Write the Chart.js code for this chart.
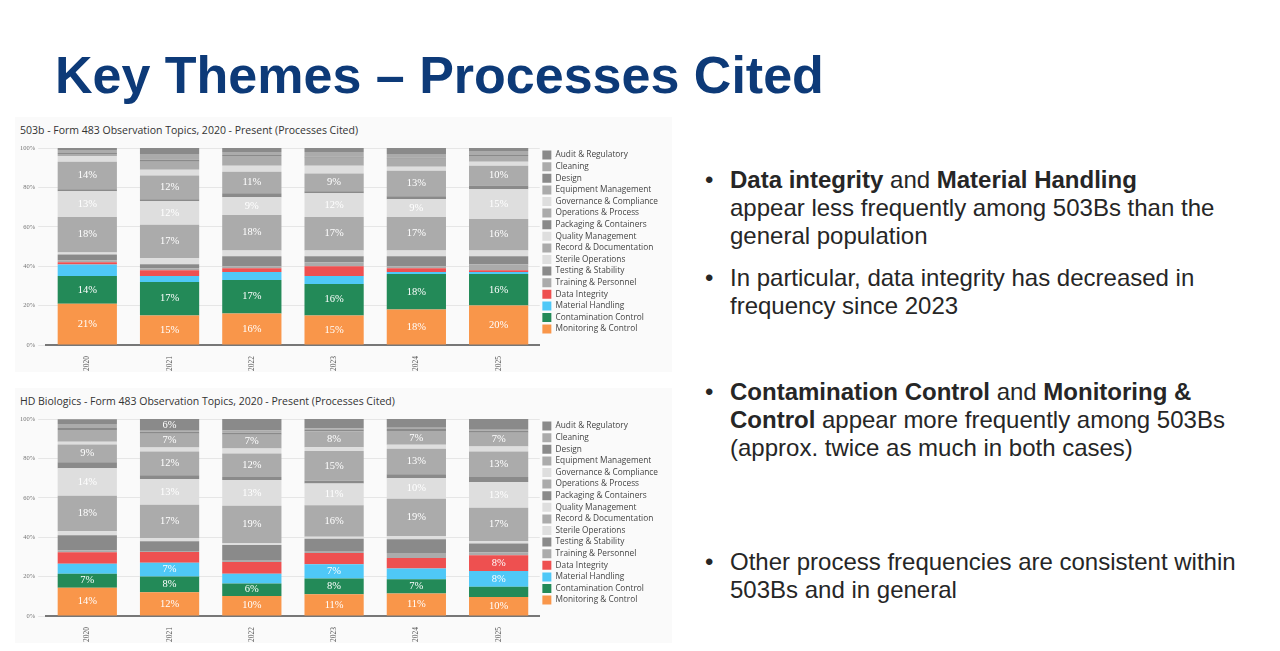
<!DOCTYPE html>
<html><head><meta charset="utf-8">
<script src="https://cdn.jsdelivr.net/npm/chart.js@4.4.1/dist/chart.umd.min.js"></script>
<style>
body{margin:0;width:1280px;height:651px;background:#fff;font-family:"Liberation Sans",Arial,sans-serif;position:relative;overflow:hidden}
h1{position:absolute;left:55px;top:45px;margin:0;font-size:52px;font-weight:bold;color:#0d3a78;letter-spacing:0px}
.panel{position:absolute;left:15px;width:657px;height:255px;background:#fafafa}
.ptitle{position:absolute;left:5px;top:6px;font-family:"Open Sans",sans-serif;font-size:10.5px;color:#333}
.cv{position:absolute;left:0;top:22px;width:657px;height:235px}
ul{position:absolute;left:705px;margin:0;padding:0;list-style:none;font-size:24px;color:#262626;line-height:28px;width:545px}
li{position:relative;padding-left:25px;margin-bottom:14px}
li:before{content:"•";position:absolute;left:0;top:0}
</style></head><body>
<h1>Key Themes – Processes Cited</h1>
<div class="panel" style="top:117px"><div class="ptitle">503b - Form 483 Observation Topics, 2020 - Present (Processes Cited)</div><div class="cv"><canvas id="c1"></canvas></div></div>
<div class="panel" style="top:388px"><div class="ptitle">HD Biologics - Form 483 Observation Topics, 2020 - Present (Processes Cited)</div><div class="cv"><canvas id="c2"></canvas></div></div>
<ul style="top:166px">
<li><b>Data integrity</b> and <b>Material Handling</b><br>appear less frequently among 503Bs than the general population</li>
<li>In particular, data integrity has decreased in frequency since 2023</li>
</ul>
<ul style="top:378px">
<li><b>Contamination Control</b> and <b>Monitoring &amp; Control</b> appear more frequently among 503Bs (approx. twice as much in both cases)</li>
</ul>
<ul style="top:548px">
<li>Other process frequencies are consistent within 503Bs and in general</li>
</ul>
<script>
const years = ["2020","2021","2022","2023","2024","2025"];
// series bottom -> top
const series = ["Monitoring & Control","Contamination Control","Material Handling","Data Integrity","Training & Personnel","Testing & Stability","Sterile Operations","Record & Documentation","Quality Management","Packaging & Containers","Operations & Process","Governance & Compliance","Equipment Management","Design","Cleaning","Audit & Regulatory"];
const colors = ["#f9964a","#238a58","#4fc8f7","#ee5050","#ababab","#8a8a8a","#dedede","#ababab","#dedede","#8a8a8a","#ababab","#dedede","#ababab","#8a8a8a","#ababab","#8a8a8a"];
const labeled = ["Monitoring & Control","Contamination Control","Material Handling","Data Integrity","Record & Documentation","Quality Management","Operations & Process","Equipment Management","Audit & Regulatory"];
const top503b = [
 [21,15,16,15,18,20],
 [14,17,17,16,18,16],
 [5.9,3,4,4,1,1],
 [1.1,3,2,5,2,1],
 [1,1,1,2,1,3],
 [3,2,5,3,5,4],
 [1,3,3,3,3,3],
 [18,17,18,17,17,16],
 [13,12,9,12,9,15],
 [1,1,2,1,1.5,2],
 [14,12,11,9,13,10],
 [3,3,3,4,2,2],
 [1,4,5,4,4,3],
 [0.5,1,0.5,0.5,0.5,0.5],
 [1.5,3,1.5,2.5,2,2],
 [1,3,2,2,3,1.5]
];
const bottomHD = [
 [14.4,12,10.2,11,11.4,9.6],
 [7.1,8,6.3,8,7.2,5.2],
 [5,7,5,7.3,5.5,8],
 [5.9,5.5,5.9,5.7,5.4,8],
 [1,0.5,1,1,2.5,1.5],
 [7.6,5,7.6,6.2,7,4.5],
 [2,1.5,1,1,1.5,1.2],
 [18,17,19,16,19,17],
 [14,13,13,11,10.4,13],
 [3,2,1.5,1.5,2,2.5],
 [9,12,12,15,13,13],
 [1.5,2,2.5,2,2,2.5],
 [5.9,7,7,8,7,7],
 [1,1,1,1,1,1],
 [2,0.5,1.1,0.5,0.6,0.5],
 [2.5,6,5.9,5,4.5,5.5]
];
const labelPlugin = {id:'vals',afterDatasetsDraw(chart){
  const ctx=chart.ctx;ctx.save();ctx.fillStyle='#fff';ctx.font='10.5px "Liberation Serif", serif';ctx.textAlign='center';ctx.textBaseline='middle';
  chart.data.datasets.forEach((ds,i)=>{
    if(!labeled.includes(ds.label))return;
    chart.getDatasetMeta(i).data.forEach((el,j)=>{
      const v=ds.data[j]; if(v>=6){ctx.fillText(Math.round(v)+'%',el.x,(el.y+el.base)/2);}
    });
  });ctx.restore();}};
function make(id,vals){
  new Chart(document.getElementById(id),{type:'bar',
    data:{labels:years,datasets:series.map((s,i)=>({label:s,data:vals[i],backgroundColor:colors[i],borderWidth:0}))},
    options:{responsive:true,maintainAspectRatio:false,animation:false,
      layout:{padding:{left:2,right:4,top:9,bottom:0}},
      datasets:{bar:{barPercentage:0.72,categoryPercentage:1}},
      plugins:{tooltip:{enabled:false},
        legend:{position:'right',align:'start',reverse:true,labels:{boxWidth:9,boxHeight:9,padding:2.6,color:'#444',font:{size:8.3,family:'"Open Sans", sans-serif'}}}},
      scales:{
        x:{stacked:true,grid:{display:false},border:{color:'#777',width:2},ticks:{maxRotation:90,minRotation:90,color:'#555',font:{size:7.5,family:'"Liberation Serif", serif'}}},
        y:{stacked:true,min:0,max:100,ticks:{stepSize:20,callback:v=>v+'%',color:'#777',font:{size:6.5,family:'"Liberation Serif", serif'}},grid:{color:'#e6e6e6'},border:{display:false}}
      }},plugins:[labelPlugin]});
}
make('c1',top503b);make('c2',bottomHD);
</script>
</body></html>
